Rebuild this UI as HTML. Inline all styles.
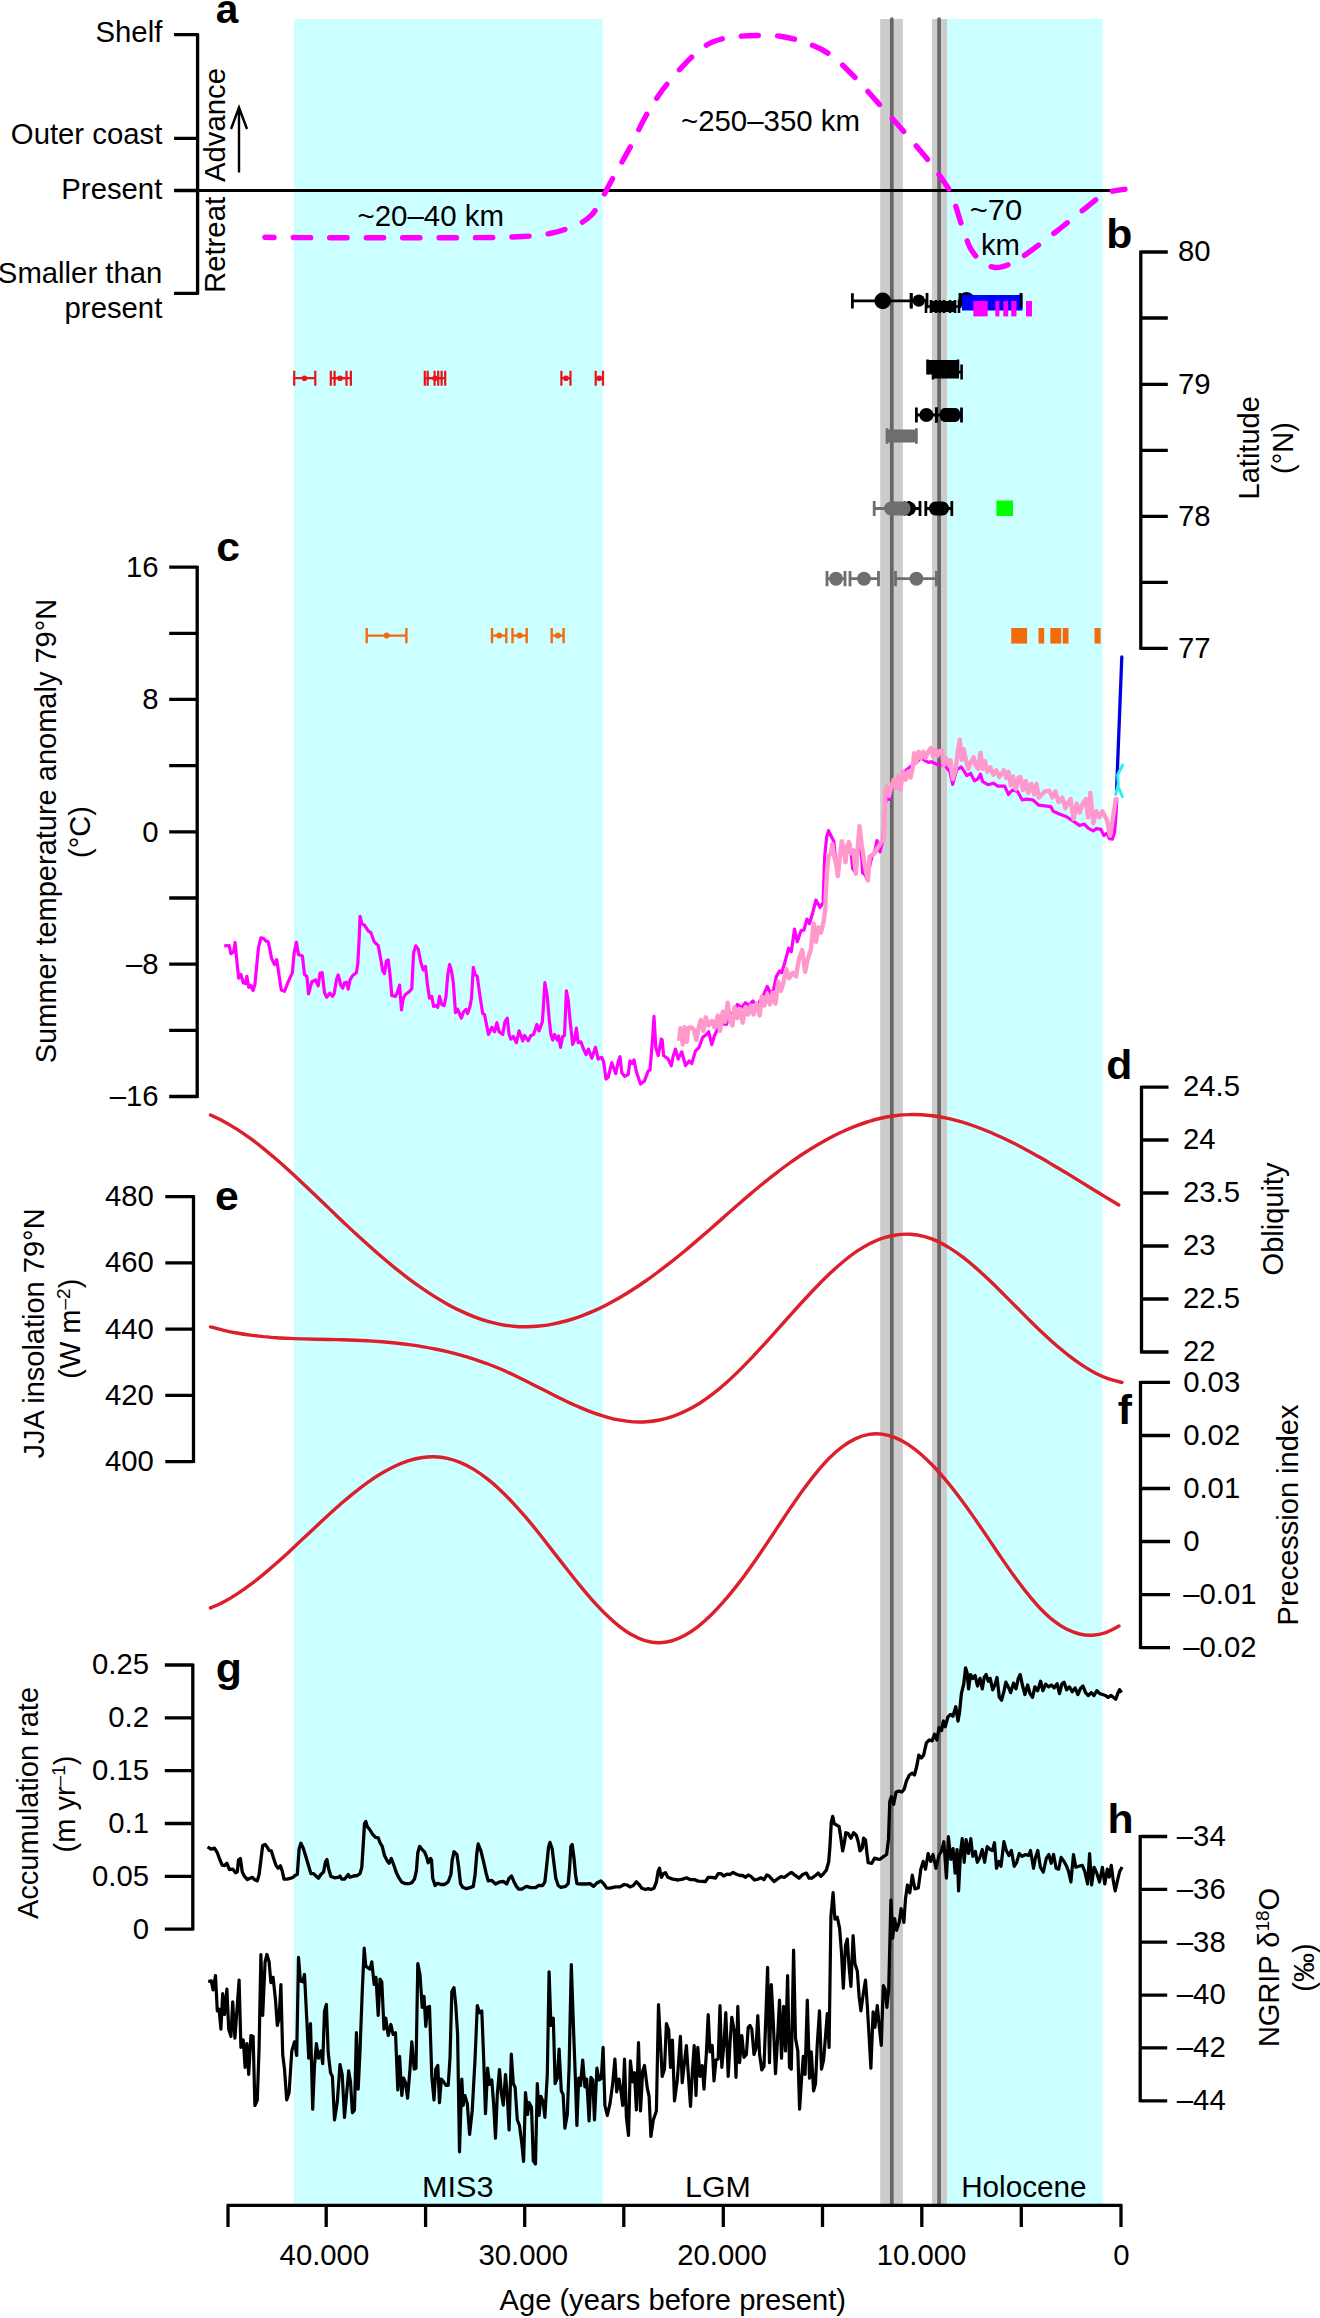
<!DOCTYPE html>
<html><head><meta charset="utf-8"><title>Figure</title>
<style>html,body{margin:0;padding:0;background:#fff}svg{display:block}text{font-family:"Liberation Sans",Arial,Helvetica,sans-serif;fill:#000}</style></head><body>
<svg width="1320" height="2318" viewBox="0 0 1320 2318">
<rect width="1320" height="2318" fill="#fff"/>
<rect x="293.8" y="19" width="309" height="2185" fill="#ccffff"/>
<rect x="946.5" y="19" width="156" height="2185" fill="#ccffff"/>
<rect x="880.2" y="19" width="22.7" height="2185" fill="#cccccc"/>
<rect x="932" y="19" width="15" height="2185" fill="#cccccc"/>
<line x1="891.8" y1="19" x2="891.8" y2="2204" stroke="#666666" stroke-width="3.7" stroke-linecap="round"/>
<line x1="939.1" y1="19" x2="939.1" y2="2204" stroke="#666666" stroke-width="3.7" stroke-linecap="round"/>
<path d="M197.6,33.3 V294.8 M197.6,34.7 H174.1 M197.6,138.4 H174.1 M197.6,190.5 H174.1 M197.6,293.4 H174.1" stroke="#000" stroke-width="3.3" fill="none" stroke-linecap="butt"/>
<line x1="174" y1="190.5" x2="1112.5" y2="190.5" stroke="#000" stroke-width="2.8"/>
<text x="162.3" y="41.8" font-size="29.3" text-anchor="end">Shelf</text>
<text x="162.3" y="143.6" font-size="29.3" text-anchor="end">Outer coast</text>
<text x="162.3" y="198.6" font-size="29.3" text-anchor="end">Present</text>
<text x="162.3" y="282.6" font-size="29.3" text-anchor="end">Smaller than</text>
<text x="162.3" y="317.6" font-size="29.3" text-anchor="end">present</text>
<text x="215.7" y="22.7" font-size="40" font-weight="bold" textLength="22.6" lengthAdjust="spacingAndGlyphs">a</text>
<text transform="translate(224.5,182) rotate(-90)" font-size="29.3">Advance</text>
<text transform="translate(224.5,293) rotate(-90)" font-size="29.3">Retreat</text>
<path d="M239,172.5 V108 M231,129 L239,107.5 L247,129" stroke="#000" stroke-width="2.4" fill="none" stroke-linejoin="miter"/>
<path d="M265.0,237.3 C270.8,237.4 277.5,237.5 300.0,237.6 C322.5,237.7 370.0,237.8 400.0,237.8 C430.0,237.8 459.5,237.8 480.0,237.6 C500.5,237.4 511.3,237.2 523.0,236.5 C534.7,235.8 542.3,234.9 550.0,233.5 C557.7,232.1 563.6,229.9 569.0,228.0 C574.4,226.1 578.8,224.2 582.5,222.0 C586.2,219.8 588.9,217.7 591.5,215.0 C594.1,212.3 595.8,209.7 598.0,206.0 C600.2,202.3 602.6,197.5 605.0,193.0 C607.4,188.5 608.3,186.3 612.5,178.8 C616.7,171.2 624.6,157.7 630.0,147.5 C635.4,137.3 639.6,127.1 645.0,117.5 C650.4,107.9 655.8,99.0 662.5,90.0 C669.2,81.0 677.9,71.1 685.0,63.8 C692.1,56.4 698.8,50.2 705.0,46.0 C711.2,41.8 716.7,40.4 722.5,38.8 C728.3,37.1 734.6,36.8 740.0,36.3 C745.4,35.8 748.3,35.5 755.0,35.5 C761.7,35.5 771.7,35.1 780.0,36.2 C788.3,37.4 796.7,39.5 805.0,42.5 C813.3,45.5 821.7,48.7 830.0,54.5 C838.3,60.3 846.7,69.1 855.0,77.5 C863.3,85.9 872.1,96.2 880.0,105.0 C887.9,113.8 894.2,120.4 902.5,130.0 C910.8,139.6 922.1,152.3 930.0,162.5 C937.9,172.7 945.8,184.1 950.0,191.0 C954.2,197.9 953.3,199.2 955.0,204.0 C956.7,208.8 958.3,214.8 960.0,220.0 C961.7,225.2 963.3,230.4 965.0,235.0 C966.7,239.6 968.3,244.2 970.0,247.5 C971.7,250.8 973.3,252.9 975.0,255.0 C976.7,257.1 978.0,258.3 980.0,260.0 C982.0,261.7 984.5,263.8 987.0,265.0 C989.5,266.2 992.3,267.2 995.0,267.5 C997.7,267.8 1000.5,267.1 1003.0,266.5 C1005.5,265.9 1006.3,265.7 1010.0,263.8 C1013.7,261.8 1017.5,260.2 1025.0,255.0 C1032.5,249.8 1045.8,239.6 1055.0,232.5 C1064.2,225.4 1072.7,218.3 1080.0,212.5 C1087.3,206.7 1094.4,200.7 1098.8,197.5 C1103.1,194.3 1103.7,194.5 1106.0,193.5 C1108.3,192.5 1109.3,191.9 1112.5,191.2 C1115.7,190.6 1122.9,189.6 1125.0,189.3" stroke="#ff00ff" stroke-width="5.4" fill="none" stroke-dasharray="17.3 19.1" stroke-dashoffset="8" stroke-linecap="round"/>
<text x="357.5" y="225.7" font-size="29.3" textLength="146.5" lengthAdjust="spacingAndGlyphs">~20–40 km</text>
<text x="681.0" y="131.2" font-size="29.3" textLength="179.0" lengthAdjust="spacingAndGlyphs">~250–350 km</text>
<text x="996.0" y="220.0" font-size="29.3" text-anchor="middle" textLength="52.5" lengthAdjust="spacingAndGlyphs">~70</text>
<text x="1000.5" y="254.5" font-size="29.3" text-anchor="middle">km</text>
<path d="M1140.8,250.6 V649.8 M1140.8,252.0 H1167.8 M1140.8,318.0 H1167.8 M1140.8,384.4 H1167.8 M1140.8,450.4 H1167.8 M1140.8,516.4 H1167.8 M1140.8,582.4 H1167.8 M1140.8,648.4 H1167.8" stroke="#000" stroke-width="3.3" fill="none" stroke-linecap="butt"/>
<text x="1178.0" y="261.3" font-size="29.3">80</text>
<text x="1178.0" y="393.7" font-size="29.3">79</text>
<text x="1178.0" y="525.7" font-size="29.3">78</text>
<text x="1178.0" y="657.7" font-size="29.3">77</text>
<text x="1106.2" y="247.5" font-size="40" font-weight="bold" textLength="26.1" lengthAdjust="spacingAndGlyphs">b</text>
<text transform="translate(1258.8,447.8) rotate(-90)" font-size="29" text-anchor="middle">Latitude</text>
<text transform="translate(1293.2,448.0) rotate(-90)" font-size="29" text-anchor="middle">(°N)</text>
<path d="M294.2,378.2 H315.3 M294.2,370.7 V385.7 M315.3,370.7 V385.7" stroke="#e8141c" stroke-width="2.2" fill="none"/>
<circle cx="304.5" cy="378.2" r="2.8" fill="#e8141c"/>
<path d="M330.8,378.2 H350.9 M330.8,370.7 V385.7 M350.9,370.7 V385.7" stroke="#e8141c" stroke-width="2.2" fill="none"/>
<circle cx="340.0" cy="378.2" r="2.8" fill="#e8141c"/>
<path d="M334.6,378.2 H346.5 M334.6,370.7 V385.7 M346.5,370.7 V385.7" stroke="#e8141c" stroke-width="2.2" fill="none"/>
<path d="M424.8,378.2 H445.2 M424.8,370.7 V385.7 M445.2,370.7 V385.7" stroke="#e8141c" stroke-width="2.2" fill="none"/>
<circle cx="435.0" cy="378.2" r="2.8" fill="#e8141c"/>
<path d="M427.7,378.2 H441.6 M427.7,370.7 V385.7 M441.6,370.7 V385.7" stroke="#e8141c" stroke-width="2.2" fill="none"/>
<path d="M434.6,378.2 H438.2 M434.6,370.7 V385.7 M438.2,370.7 V385.7" stroke="#e8141c" stroke-width="2.2" fill="none"/>
<path d="M561.4,378.2 H570.5 M561.4,370.7 V385.7 M570.5,370.7 V385.7" stroke="#e8141c" stroke-width="2.2" fill="none"/>
<circle cx="566.0" cy="378.2" r="2.8" fill="#e8141c"/>
<path d="M595.7,378.2 H603.0 M595.7,370.7 V385.7 M603.0,370.7 V385.7" stroke="#e8141c" stroke-width="2.2" fill="none"/>
<circle cx="599.3" cy="378.2" r="2.8" fill="#e8141c"/>
<path d="M366.7,635.6 H406.4 M366.7,628.0 V643.2 M406.4,628.0 V643.2" stroke="#f26c0d" stroke-width="2.4" fill="none"/>
<circle cx="386.6" cy="635.6" r="3.0" fill="#f26c0d"/>
<path d="M492.0,635.6 H506.3 M492.0,628.0 V643.2 M506.3,628.0 V643.2" stroke="#f26c0d" stroke-width="2.4" fill="none"/>
<circle cx="499.2" cy="635.6" r="3.0" fill="#f26c0d"/>
<path d="M512.5,635.6 H526.7 M512.5,628.0 V643.2 M526.7,628.0 V643.2" stroke="#f26c0d" stroke-width="2.4" fill="none"/>
<circle cx="519.5" cy="635.6" r="3.0" fill="#f26c0d"/>
<path d="M551.7,635.6 H563.6 M551.7,628.0 V643.2 M563.6,628.0 V643.2" stroke="#f26c0d" stroke-width="2.4" fill="none"/>
<circle cx="557.8" cy="635.6" r="3.0" fill="#f26c0d"/>
<rect x="1011.2" y="628" width="15.9" height="15.6" fill="#f26c0d"/>
<rect x="1038.5" y="628" width="5.7" height="15.6" fill="#f26c0d"/>
<rect x="1050.3" y="628" width="10.9" height="15.6" fill="#f26c0d"/>
<rect x="1062.7" y="628" width="5.8" height="15.6" fill="#f26c0d"/>
<rect x="1094.5" y="628" width="6.1" height="15.6" fill="#f26c0d"/>
<path d="M852.4,300.9 H911.2 M852.4,293.3 V308.5 M911.2,293.3 V308.5" stroke="#000" stroke-width="2.8" fill="none"/>
<circle cx="882.7" cy="300.9" r="8.3" fill="#000"/>
<path d="M911.2,300.6 H927.0 M911.2,293.0 V308.2 M927.0,293.0 V308.2" stroke="#000" stroke-width="2.8" fill="none"/>
<circle cx="918.8" cy="300.6" r="6.2" fill="#000"/>
<circle cx="966.5" cy="300" r="8" fill="#000"/>
<path d="M926.0,306.5 H944.0 M926.0,300.0 V313.0 M944.0,300.0 V313.0" stroke="#000" stroke-width="2.6" fill="none"/>
<circle cx="935.0" cy="306.5" r="5.5" fill="#000"/>
<path d="M931.0,306.5 H950.0 M931.0,300.0 V313.0 M950.0,300.0 V313.0" stroke="#000" stroke-width="2.6" fill="none"/>
<circle cx="941.0" cy="306.5" r="5.5" fill="#000"/>
<path d="M936.0,306.5 H955.0 M936.0,300.0 V313.0 M955.0,300.0 V313.0" stroke="#000" stroke-width="2.6" fill="none"/>
<circle cx="946.0" cy="306.5" r="5.5" fill="#000"/>
<path d="M940.0,306.5 H959.0 M940.0,300.0 V313.0 M959.0,300.0 V313.0" stroke="#000" stroke-width="2.6" fill="none"/>
<circle cx="950.0" cy="306.5" r="5.5" fill="#000"/>
<rect x="930" y="301" width="26" height="11" fill="#000"/>
<path d="M960.0,300.5 H1021.0 M960.0,292.9 V308.1 M1021.0,292.9 V308.1" stroke="#000" stroke-width="2.8" fill="none"/>
<rect x="962" y="295" width="60.5" height="15.5" fill="#0000ff"/>
<line x1="1021" y1="293" x2="1021" y2="308" stroke="#000" stroke-width="2.2"/>
<rect x="973.3" y="301" width="14.4" height="15.4" fill="#ff00ff"/>
<rect x="995.3" y="301" width="4.1" height="15.4" fill="#ff00ff"/>
<rect x="1003.3" y="301" width="4.9" height="15.4" fill="#ff00ff"/>
<rect x="1011.2" y="301" width="5.3" height="15.4" fill="#ff00ff"/>
<rect x="1026.0" y="301" width="6.0" height="15.4" fill="#ff00ff"/>
<rect x="928" y="360" width="29" height="14.5" fill="#000"/>
<rect x="934" y="366" width="25" height="12.5" fill="#000"/>
<path d="M927.5,367.0 H958.0 M927.5,359.4 V374.6 M958.0,359.4 V374.6" stroke="#000" stroke-width="2.6" fill="none"/>
<path d="M933.0,372.0 H961.6 M933.0,364.4 V379.6 M961.6,364.4 V379.6" stroke="#000" stroke-width="2.6" fill="none"/>
<path d="M916.4,415.0 H936.4 M916.4,407.4 V422.6 M936.4,407.4 V422.6" stroke="#000" stroke-width="2.8" fill="none"/>
<circle cx="926.4" cy="415.0" r="7.0" fill="#000"/>
<path d="M936.4,415.0 H961.5 M936.4,407.4 V422.6 M961.5,407.4 V422.6" stroke="#000" stroke-width="2.8" fill="none"/>
<rect x="940" y="408" width="20" height="14" rx="5" fill="#000"/>
<path d="M887.0,436.0 H916.4 M887.0,428.2 V443.8 M916.4,428.2 V443.8" stroke="#6e6e6e" stroke-width="2.8" fill="none"/>
<rect x="887.5" y="429.5" width="28.5" height="13" rx="2" fill="#6e6e6e"/>
<path d="M909.0,508.5 H920.0 M909.0,500.9 V516.1 M920.0,500.9 V516.1" stroke="#000" stroke-width="2.8" fill="none"/>
<circle cx="909.0" cy="508.5" r="7.0" fill="#000"/>
<path d="M925.8,508.5 H951.8 M925.8,500.9 V516.1 M951.8,500.9 V516.1" stroke="#000" stroke-width="2.8" fill="none"/>
<rect x="929" y="501.5" width="20" height="14" rx="6.5" fill="#000"/>
<path d="M874.2,508.5 H905.0 M874.2,500.9 V516.1 M905.0,500.9 V516.1" stroke="#6e6e6e" stroke-width="2.8" fill="none"/>
<circle cx="891.0" cy="508.5" r="7.0" fill="#6e6e6e"/>
<rect x="886" y="501.5" width="24.5" height="14" rx="6.5" fill="#6e6e6e"/>
<rect x="996.4" y="500.5" width="16.6" height="15.5" fill="#00ff00"/>
<path d="M827.0,578.7 H845.0 M827.0,571.1 V586.3 M845.0,571.1 V586.3" stroke="#6e6e6e" stroke-width="2.8" fill="none"/>
<circle cx="836.0" cy="578.7" r="7.0" fill="#6e6e6e"/>
<path d="M850.0,578.7 H878.5 M850.0,571.1 V586.3 M878.5,571.1 V586.3" stroke="#6e6e6e" stroke-width="2.8" fill="none"/>
<circle cx="864.0" cy="578.7" r="7.0" fill="#6e6e6e"/>
<path d="M895.5,578.7 H936.4 M895.5,571.1 V586.3 M936.4,571.1 V586.3" stroke="#6e6e6e" stroke-width="2.8" fill="none"/>
<circle cx="916.4" cy="578.7" r="7.0" fill="#6e6e6e"/>
<path d="M197.2,565.7 V1097.9 M197.2,567.1 H169.2 M197.2,633.3 H169.2 M197.2,699.4 H169.2 M197.2,765.6 H169.2 M197.2,831.8 H169.2 M197.2,898.0 H169.2 M197.2,964.1 H169.2 M197.2,1030.3 H169.2 M197.2,1096.5 H169.2" stroke="#000" stroke-width="3.3" fill="none" stroke-linecap="butt"/>
<text x="158.6" y="576.9" font-size="29.3" text-anchor="end">16</text>
<text x="158.6" y="709.2" font-size="29.3" text-anchor="end">8</text>
<text x="158.6" y="841.6" font-size="29.3" text-anchor="end">0</text>
<text x="158.6" y="973.9" font-size="29.3" text-anchor="end">–8</text>
<text x="158.6" y="1106.3" font-size="29.3" text-anchor="end">–16</text>
<text x="216.2" y="560.5" font-size="40" font-weight="bold" textLength="23.8" lengthAdjust="spacingAndGlyphs">c</text>
<text transform="translate(55.5,831.0) rotate(-90)" font-size="29" text-anchor="middle">Summer temperature anomaly 79°N</text>
<text transform="translate(89.5,832.0) rotate(-90)" font-size="29" text-anchor="middle">(°C)</text>
<polyline points="224.2,945.8 229.1,945.5 230.9,953.6 233.6,951.8 235.1,942.7 237.3,965.5 238.7,978.2 240.9,974.5 243.3,982.7 245.5,983.6 246.9,976.4 248.7,987.3 250.9,985.5 253.1,990.5 254.9,984.5 256.7,965.5 258.5,947.3 260.9,937.8 263.6,938.5 265.8,940.9 268.2,941.8 270.0,950.0 271.5,958.2 274.5,964.5 276.7,959.6 279.1,975.5 281.3,990.0 284.5,991.3 288.2,981.8 292.4,972.7 294.2,952.7 296.4,942.2 298.5,954.5 302.4,956.0 304.5,974.5 306.9,976.4 308.5,994.0 311.8,981.8 315.5,980.0 318.2,985.8 320.0,973.1 322.2,972.7 324.5,992.7 326.7,997.3 330.0,993.1 332.4,996.4 334.2,993.6 336.4,980.0 338.2,974.9 340.9,985.5 342.7,988.2 344.5,982.7 346.4,982.2 348.2,989.1 350.0,980.0 352.7,975.5 356.4,972.7 357.8,963.6 359.1,940.0 360.0,916.4 361.8,923.6 364.5,925.1 368.2,930.9 370.9,932.7 374.2,941.8 378.2,945.5 380.9,960.0 382.7,970.9 384.5,973.6 386.4,960.9 388.2,960.0 390.0,974.5 391.8,995.5 395.5,996.4 397.3,992.7 399.6,985.1 401.5,1010.0 403.3,998.2 405.5,994.5 409.1,991.8 411.8,988.7 413.6,952.7 415.8,945.8 418.2,949.1 420.9,962.7 423.3,970.0 425.5,966.4 427.3,983.6 429.5,998.2 431.8,996.4 433.6,1006.4 436.0,1005.5 437.8,1007.3 439.5,996.4 441.8,1004.5 444.2,1005.5 446.0,996.4 447.8,974.5 449.6,964.5 451.5,970.9 453.3,982.7 455.5,1012.7 457.6,1009.1 459.5,1013.6 461.3,1018.2 463.6,1011.8 466.0,1009.5 467.6,1013.6 470.0,1006.4 471.5,998.2 473.3,967.3 475.1,974.5 477.3,976.4 480.0,996.4 482.7,1013.6 484.5,1014.5 486.7,1025.5 488.5,1034.5 491.8,1027.3 494.5,1031.8 496.9,1022.7 499.1,1031.8 502.7,1034.5 504.9,1021.8 507.3,1018.2 509.1,1034.5 510.9,1039.1 513.3,1036.4 516.4,1042.7 519.1,1030.9 520.9,1035.5 522.7,1040.9 524.5,1035.5 528.2,1040.9 530.9,1035.5 533.6,1034.5 536.9,1024.5 539.1,1030.9 542.4,1021.8 544.9,982.7 547.3,996.4 549.1,1018.2 550.9,1034.5 552.7,1040.0 554.5,1034.5 557.3,1040.0 558.7,1036.0 560.5,1047.3 562.7,1036.7 564.5,1035.5 566.4,990.9 568.2,1000.0 570.4,1023.6 572.7,1044.5 574.5,1040.0 576.4,1028.2 578.2,1042.7 580.9,1041.8 583.6,1049.1 586.0,1054.5 588.5,1049.1 591.8,1058.2 595.5,1047.3 598.2,1059.1 601.8,1057.3 603.6,1061.8 606.0,1079.1 608.2,1077.3 611.8,1062.7 615.8,1073.6 618.2,1061.8 620.0,1056.7 621.8,1072.7 624.5,1076.4 628.2,1074.5 630.0,1060.9 632.2,1063.6 634.0,1060.0 636.4,1071.8 640.5,1084.0 644.5,1080.9 648.2,1070.9 650.0,1070.0 652.2,1043.6 654.0,1016.4 655.8,1047.3 658.2,1055.5 661.3,1039.1 662.2,1040.0 663.6,1055.5 668.2,1059.1 671.3,1065.8 673.1,1056.4 675.5,1049.1 678.2,1059.1 681.8,1051.8 685.5,1065.5 689.1,1060.9 691.8,1063.6 695.5,1050.9 699.1,1047.3 702.7,1037.3 706.4,1034.5 708.7,1031.8 711.8,1044.5 714.5,1035.5 718.2,1028.2 722.7,1023.6 726.4,1024.5 730.0,1015.5 734.5,1010.9 737.3,1004.5 741.8,1007.3 745.5,1002.7 749.1,1005.5 752.7,1000.9 757.3,1005.5 761.8,998.2 764.5,992.7 767.3,986.4 770.9,994.5 773.6,989.1 776.4,976.4 779.6,970.9 781.8,972.7 785.5,960.0 788.7,948.2 791.3,951.8 794.5,929.1 797.3,941.8 800.9,930.9 804.0,930.0 806.9,919.1 809.5,923.6 812.7,912.7 816.0,900.0 820.0,907.3 823.6,901.8 825.1,887.3 823.2,900.0 824.7,856.4 826.7,836.7 828.5,830.6 831.5,836.7 833.8,841.2 835.3,856.4 837.6,871.5 839.8,856.4 841.8,842.7 843.6,850.3 845.5,860.9 847.4,845.8 849.4,842.7 851.2,853.3 852.7,868.5 855.8,873.0 858.0,851.8 860.0,829.1 862.6,873.0 864.8,874.5 867.1,879.1 870.2,863.9 872.4,854.8 874.7,851.8 877.0,840.5 880.0,851.8 883.0,839.7 884.5,810.9 886.1,798.8 889.8,799.5 891.4,788.2 895.2,783.6 899.7,780.6 903.5,773.0 907.3,769.2 911.8,765.5 916.4,762.4 920.9,757.9 925.5,760.9 928.5,762.4 931.5,761.7 934.5,763.2 938.3,764.7 940.6,765.5 943.6,763.9 946.7,767.7 949.7,771.5 952.7,784.4 956.5,770.0 961.1,767.0 963.0,769.5 966.8,775.6 970.6,773.3 974.4,780.9 978.2,778.6 980.5,774.1 982.7,781.7 988.0,784.7 993.3,783.2 997.9,786.2 1004.7,786.2 1008.5,794.5 1012.3,790.0 1017.6,791.5 1022.1,799.8 1026.7,799.1 1032.7,799.8 1038.8,805.2 1044.8,805.9 1050.9,806.7 1053.2,811.2 1060.0,814.2 1066.1,816.5 1072.1,820.3 1079.7,825.6 1084.2,824.1 1088.8,828.6 1093.3,830.9 1096.4,828.6 1100.9,829.4 1103.9,835.5 1107.0,833.2 1109.2,838.5 1112.3,839.2 1114.5,832.4 1116.1,814.2 1116.8,797.6" stroke="#ff00ff" stroke-width="3.2" fill="none" stroke-linejoin="round"/>
<polyline points="679.1,1040.9 680.4,1028.2 682.7,1044.5 684.5,1027.3 686.9,1041.8 688.2,1028.2 690.9,1027.3 693.6,1029.1 696.4,1040.0 699.1,1025.5 700.9,1020.0 703.3,1030.9 705.8,1017.3 708.7,1025.5 711.8,1020.9 714.5,1027.3 717.8,1015.5 720.0,1030.9 722.7,1011.8 725.1,1021.8 727.6,1002.7 730.0,1020.0 732.4,1025.5 734.5,1007.3 737.3,1018.2 740.0,1009.1 742.7,1022.7 745.5,1007.3 748.2,1014.5 750.9,1005.5 753.6,1014.5 756.4,1003.6 759.6,1015.5 761.8,996.4 764.5,1005.5 767.3,994.5 770.0,1004.5 772.7,992.7 775.5,1003.6 778.2,981.8 780.9,990.9 783.6,981.8 786.4,969.1 789.1,978.2 792.7,972.7 796.0,976.4 799.1,958.2 802.2,950.0 805.1,971.8 807.6,960.0 810.9,949.1 813.6,923.6 816.0,941.8 818.5,927.3 820.9,932.7 823.6,921.8 825.5,907.3 825.5,900.0 827.0,871.5 828.5,856.4 830.8,853.3 832.3,844.2 834.2,856.4 836.1,863.9 837.9,876.1 839.8,856.4 841.8,841.2 843.6,848.8 845.5,862.4 847.4,845.8 848.9,842.0 851.2,853.3 853.5,850.3 855.8,873.8 857.6,848.8 859.5,826.1 861.8,845.8 864.8,865.5 867.9,880.6 869.7,856.4 872.4,854.8 874.7,853.3 877.0,848.8 879.2,845.8 881.5,841.2 883.8,839.7 885.3,791.2 886.8,786.7 888.8,795.8 891.4,786.7 893.6,779.8 895.9,788.2 898.2,776.1 900.5,789.7 902.7,771.5 905.8,779.8 908.0,771.5 910.6,777.6 912.6,768.5 914.1,753.3 916.4,762.4 918.6,751.8 920.9,757.9 923.2,751.8 925.5,757.9 927.7,752.6 930.8,748.0 933.0,756.4 935.3,749.5 937.6,755.6 939.8,751.1 942.1,750.3 943.6,765.5 945.9,757.9 948.2,763.9 950.5,760.2 952.7,779.1 955.8,768.5 958.0,750.3 959.8,739.7 961.8,759.7 963.8,749.1 966.1,761.2 968.3,768.8 970.6,762.7 973.6,757.4 975.9,765.8 978.2,768.8 980.5,752.9 982.7,768.8 985.0,761.2 987.3,771.8 990.3,767.3 993.3,774.8 996.4,770.3 999.4,777.1 1003.9,770.3 1006.2,777.9 1008.5,771.8 1010.8,785.5 1013.0,776.4 1016.1,789.2 1018.3,777.9 1020.6,777.1 1022.9,790.0 1025.9,780.9 1028.2,793.0 1031.2,783.9 1034.2,794.5 1036.5,783.9 1038.8,797.6 1041.8,794.5 1044.8,791.5 1049.4,790.8 1052.4,797.6 1055.5,791.5 1058.5,802.1 1062.3,797.6 1065.3,808.2 1068.3,802.1 1070.6,799.1 1073.6,818.8 1076.7,803.6 1079.7,812.7 1082.7,803.6 1085.8,799.1 1088.0,817.3 1090.3,793.0 1093.3,823.3 1096.4,811.2 1099.4,817.3 1102.4,811.2 1107.0,820.3 1110.0,835.5 1113.0,817.3 1116.1,797.6" stroke="#ff99cc" stroke-width="4.4" fill="none" stroke-linejoin="round"/>
<line x1="1121.8" y1="657" x2="1116.6" y2="790" stroke="#0000e0" stroke-width="3.3" stroke-linecap="round"/>
<path d="M1115.7,794.5 L1118.3,784 L1117.6,775 L1122.6,765 M1117.8,785.5 L1122.3,796.5" stroke="#33eeee" stroke-width="3" fill="none" stroke-linecap="round" stroke-linejoin="round"/>
<path d="M210.5,1115.0 C212.7,1116.1 219.3,1119.0 223.7,1121.4 C228.1,1123.7 232.4,1126.3 236.8,1129.1 C241.2,1131.9 245.6,1135.0 250.0,1138.2 C254.4,1141.4 258.8,1144.8 263.2,1148.3 C267.5,1151.8 271.9,1155.5 276.3,1159.3 C280.7,1163.1 285.1,1167.0 289.5,1171.0 C293.9,1175.0 298.3,1179.1 302.6,1183.2 C307.0,1187.3 311.4,1191.5 315.8,1195.7 C320.2,1199.9 324.6,1204.1 329.0,1208.4 C333.4,1212.6 337.7,1216.8 342.1,1221.0 C346.5,1225.1 350.9,1229.3 355.3,1233.3 C359.7,1237.4 364.1,1241.4 368.5,1245.3 C372.8,1249.2 377.2,1253.1 381.6,1256.8 C386.0,1260.6 390.4,1264.3 394.8,1267.8 C399.2,1271.3 403.6,1274.8 407.9,1278.1 C412.3,1281.4 416.7,1284.6 421.1,1287.6 C425.5,1290.7 429.9,1293.6 434.3,1296.4 C438.7,1299.1 443.0,1301.7 447.4,1304.2 C451.8,1306.6 456.2,1308.9 460.6,1310.9 C465.0,1313.0 469.4,1314.9 473.8,1316.6 C478.1,1318.3 482.5,1319.8 486.9,1321.1 C491.3,1322.4 495.7,1323.5 500.1,1324.3 C504.5,1325.2 508.9,1325.8 513.2,1326.2 C517.6,1326.6 522.0,1326.8 526.4,1326.7 C530.8,1326.7 535.2,1326.5 539.6,1326.0 C544.0,1325.6 548.4,1324.9 552.7,1324.1 C557.1,1323.3 561.5,1322.2 565.9,1321.0 C570.3,1319.8 574.7,1318.4 579.1,1316.8 C583.5,1315.3 587.8,1313.5 592.2,1311.6 C596.6,1309.7 601.0,1307.7 605.4,1305.4 C609.8,1303.2 614.2,1300.8 618.6,1298.3 C622.9,1295.8 627.3,1293.1 631.7,1290.3 C636.1,1287.5 640.5,1284.6 644.9,1281.5 C649.3,1278.5 653.7,1275.3 658.0,1272.0 C662.4,1268.7 666.8,1265.3 671.2,1261.9 C675.6,1258.4 680.0,1254.8 684.4,1251.2 C688.8,1247.6 693.1,1243.9 697.5,1240.1 C701.9,1236.3 706.3,1232.5 710.7,1228.7 C715.1,1224.8 719.5,1220.9 723.9,1217.1 C728.2,1213.2 732.6,1209.3 737.0,1205.5 C741.4,1201.7 745.8,1197.8 750.2,1194.1 C754.6,1190.4 759.0,1186.7 763.3,1183.2 C767.7,1179.6 772.1,1176.2 776.5,1172.8 C780.9,1169.4 785.3,1166.2 789.7,1163.0 C794.1,1159.9 798.4,1156.9 802.8,1154.0 C807.2,1151.1 811.6,1148.3 816.0,1145.7 C820.4,1143.1 824.8,1140.6 829.2,1138.2 C833.6,1135.9 837.9,1133.7 842.3,1131.7 C846.7,1129.6 851.1,1127.8 855.5,1126.1 C859.9,1124.4 864.3,1122.8 868.7,1121.5 C873.0,1120.1 877.4,1119.0 881.8,1118.0 C886.2,1117.0 890.6,1116.3 895.0,1115.7 C899.4,1115.1 903.8,1114.7 908.1,1114.6 C912.5,1114.4 916.9,1114.5 921.3,1114.7 C925.7,1114.9 930.1,1115.4 934.5,1116.0 C938.9,1116.6 943.2,1117.4 947.6,1118.4 C952.0,1119.3 956.4,1120.5 960.8,1121.7 C965.2,1123.0 969.6,1124.4 974.0,1126.0 C978.3,1127.5 982.7,1129.2 987.1,1131.0 C991.5,1132.8 995.9,1134.8 1000.3,1136.8 C1004.7,1138.8 1009.1,1140.9 1013.4,1143.1 C1017.8,1145.3 1022.2,1147.6 1026.6,1150.0 C1031.0,1152.4 1035.4,1154.8 1039.8,1157.3 C1044.2,1159.8 1048.5,1162.4 1052.9,1165.0 C1057.3,1167.5 1061.7,1170.2 1066.1,1172.8 C1070.5,1175.5 1074.9,1178.2 1079.3,1180.9 C1083.6,1183.6 1088.0,1186.3 1092.4,1189.0 C1096.8,1191.7 1101.2,1194.4 1105.6,1197.1 C1110.0,1199.7 1116.6,1203.7 1118.8,1205.0" stroke="#dc1f2b" stroke-width="3.4" fill="none" stroke-linecap="round"/>
<path d="M210.5,1326.9 C212.7,1327.5 219.3,1329.3 223.7,1330.3 C228.1,1331.3 232.5,1332.2 236.9,1333.0 C241.3,1333.8 245.7,1334.5 250.1,1335.1 C254.5,1335.7 258.9,1336.1 263.3,1336.6 C267.7,1337.0 272.1,1337.4 276.6,1337.7 C281.0,1338.0 285.4,1338.2 289.8,1338.4 C294.2,1338.6 298.6,1338.8 303.0,1338.9 C307.4,1339.0 311.8,1339.1 316.2,1339.2 C320.6,1339.3 325.0,1339.4 329.4,1339.5 C333.8,1339.6 338.2,1339.7 342.6,1339.8 C347.0,1340.0 351.4,1340.1 355.8,1340.3 C360.2,1340.5 364.6,1340.7 369.0,1340.9 C373.4,1341.2 377.8,1341.5 382.2,1341.8 C386.6,1342.2 391.0,1342.6 395.4,1343.0 C399.8,1343.5 404.2,1344.0 408.7,1344.6 C413.1,1345.2 417.5,1345.8 421.9,1346.6 C426.3,1347.3 430.7,1348.1 435.1,1349.0 C439.5,1349.8 443.9,1350.8 448.3,1351.9 C452.7,1352.9 457.1,1354.0 461.5,1355.3 C465.9,1356.5 470.3,1357.9 474.7,1359.3 C479.1,1360.8 483.5,1362.3 487.9,1364.0 C492.3,1365.6 496.7,1367.4 501.1,1369.3 C505.5,1371.2 509.9,1373.2 514.3,1375.3 C518.7,1377.4 523.1,1379.6 527.5,1381.8 C531.9,1384.0 536.4,1386.3 540.8,1388.5 C545.2,1390.7 549.6,1393.0 554.0,1395.2 C558.4,1397.4 562.8,1399.6 567.2,1401.7 C571.6,1403.7 576.0,1405.7 580.4,1407.6 C584.8,1409.5 589.2,1411.3 593.6,1412.9 C598.0,1414.4 602.4,1415.9 606.8,1417.1 C611.2,1418.4 615.6,1419.4 620.0,1420.2 C624.4,1421.0 628.8,1421.6 633.2,1421.9 C637.6,1422.1 642.0,1422.1 646.4,1421.8 C650.8,1421.5 655.2,1420.9 659.6,1420.0 C664.0,1419.1 668.5,1417.8 672.9,1416.3 C677.3,1414.8 681.7,1413.0 686.1,1410.8 C690.5,1408.7 694.9,1406.2 699.3,1403.5 C703.7,1400.7 708.1,1397.6 712.5,1394.2 C716.9,1390.9 721.3,1387.2 725.7,1383.3 C730.1,1379.4 734.5,1375.2 738.9,1370.9 C743.3,1366.5 747.7,1362.0 752.1,1357.4 C756.5,1352.7 760.9,1347.9 765.3,1343.1 C769.7,1338.3 774.1,1333.3 778.5,1328.4 C782.9,1323.5 787.3,1318.5 791.7,1313.6 C796.1,1308.7 800.6,1303.7 805.0,1299.0 C809.4,1294.2 813.8,1289.5 818.2,1285.0 C822.6,1280.6 827.0,1276.2 831.4,1272.1 C835.8,1268.0 840.2,1264.1 844.6,1260.5 C849.0,1257.0 853.4,1253.6 857.8,1250.7 C862.2,1247.8 866.6,1245.2 871.0,1243.0 C875.4,1240.8 879.8,1239.0 884.2,1237.7 C888.6,1236.3 893.0,1235.3 897.4,1234.7 C901.8,1234.1 906.2,1234.0 910.6,1234.2 C915.0,1234.5 919.4,1235.2 923.8,1236.4 C928.3,1237.5 932.7,1239.1 937.1,1241.1 C941.5,1243.2 945.9,1245.6 950.3,1248.4 C954.7,1251.2 959.1,1254.3 963.5,1257.7 C967.9,1261.1 972.3,1264.8 976.7,1268.6 C981.1,1272.5 985.5,1276.6 989.9,1280.8 C994.3,1285.0 998.7,1289.3 1003.1,1293.7 C1007.5,1298.1 1011.9,1302.6 1016.3,1307.0 C1020.7,1311.4 1025.1,1315.9 1029.5,1320.2 C1033.9,1324.6 1038.3,1328.9 1042.7,1333.0 C1047.1,1337.1 1051.5,1341.2 1055.9,1345.0 C1060.4,1348.8 1064.8,1352.5 1069.2,1355.9 C1073.6,1359.3 1078.0,1362.5 1082.4,1365.4 C1086.8,1368.3 1091.2,1370.9 1095.6,1373.2 C1100.0,1375.4 1104.4,1377.4 1108.8,1378.9 C1113.2,1380.5 1119.8,1381.8 1122.0,1382.4" stroke="#dc1f2b" stroke-width="3.4" fill="none" stroke-linecap="round"/>
<path d="M210.5,1607.9 C212.6,1606.9 219.2,1604.2 223.6,1601.9 C228.0,1599.6 232.4,1597.0 236.8,1594.1 C241.2,1591.3 245.6,1588.2 250.0,1584.9 C254.3,1581.7 258.7,1578.2 263.1,1574.6 C267.5,1571.0 271.9,1567.2 276.3,1563.3 C280.7,1559.4 285.1,1555.4 289.5,1551.4 C293.9,1547.3 298.2,1543.2 302.6,1539.1 C307.0,1535.0 311.4,1530.8 315.8,1526.7 C320.2,1522.6 324.6,1518.5 329.0,1514.5 C333.4,1510.6 337.7,1506.6 342.1,1502.8 C346.5,1499.1 350.9,1495.4 355.3,1491.9 C359.7,1488.4 364.1,1485.0 368.5,1481.9 C372.9,1478.8 377.2,1475.9 381.6,1473.3 C386.0,1470.7 390.4,1468.3 394.8,1466.2 C399.2,1464.2 403.6,1462.4 408.0,1460.9 C412.4,1459.5 416.8,1458.4 421.1,1457.7 C425.5,1457.0 429.9,1456.6 434.3,1456.7 C438.7,1456.8 443.1,1457.3 447.5,1458.3 C451.9,1459.3 456.3,1460.7 460.6,1462.6 C465.0,1464.4 469.4,1466.8 473.8,1469.4 C478.2,1472.1 482.6,1475.2 487.0,1478.7 C491.4,1482.1 495.8,1485.9 500.1,1490.0 C504.5,1494.1 508.9,1498.6 513.3,1503.3 C517.7,1508.0 522.1,1513.0 526.5,1518.1 C530.9,1523.3 535.3,1528.7 539.7,1534.2 C544.0,1539.7 548.4,1545.4 552.8,1551.1 C557.2,1556.7 561.6,1562.5 566.0,1568.0 C570.4,1573.6 574.8,1579.2 579.2,1584.6 C583.5,1589.9 587.9,1595.2 592.3,1600.1 C596.7,1605.0 601.1,1609.8 605.5,1614.0 C609.9,1618.3 614.3,1622.3 618.7,1625.8 C623.1,1629.2 627.4,1632.3 631.8,1634.8 C636.2,1637.3 640.6,1639.3 645.0,1640.6 C649.4,1641.9 653.8,1642.7 658.2,1642.7 C662.6,1642.8 666.9,1642.2 671.3,1641.0 C675.7,1639.7 680.1,1637.9 684.5,1635.5 C688.9,1633.1 693.3,1630.2 697.7,1626.8 C702.1,1623.4 706.4,1619.5 710.8,1615.2 C715.2,1611.0 719.6,1606.2 724.0,1601.2 C728.4,1596.2 732.8,1590.8 737.2,1585.1 C741.6,1579.5 746.0,1573.5 750.3,1567.4 C754.7,1561.3 759.1,1554.9 763.5,1548.4 C767.9,1541.9 772.3,1535.2 776.7,1528.6 C781.1,1522.1 785.5,1515.3 789.8,1508.9 C794.2,1502.5 798.6,1496.0 803.0,1490.0 C807.4,1484.0 811.8,1478.1 816.2,1472.8 C820.6,1467.5 825.0,1462.4 829.4,1458.0 C833.7,1453.7 838.1,1449.8 842.5,1446.6 C846.9,1443.3 851.3,1440.7 855.7,1438.6 C860.1,1436.6 864.5,1435.2 868.9,1434.4 C873.2,1433.7 877.6,1433.6 882.0,1434.1 C886.4,1434.6 890.8,1435.9 895.2,1437.6 C899.6,1439.4 904.0,1441.8 908.4,1444.6 C912.7,1447.5 917.1,1450.9 921.5,1454.7 C925.9,1458.6 930.3,1462.9 934.7,1467.5 C939.1,1472.2 943.5,1477.3 947.9,1482.6 C952.3,1487.9 956.6,1493.6 961.0,1499.5 C965.4,1505.4 969.8,1511.6 974.2,1517.9 C978.6,1524.1 983.0,1530.7 987.4,1537.1 C991.8,1543.6 996.1,1550.2 1000.5,1556.6 C1004.9,1563.0 1009.3,1569.4 1013.7,1575.5 C1018.1,1581.5 1022.5,1587.5 1026.9,1592.9 C1031.3,1598.4 1035.6,1603.6 1040.0,1608.2 C1044.4,1612.7 1048.8,1616.9 1053.2,1620.4 C1057.6,1623.9 1062.0,1626.8 1066.4,1629.1 C1070.8,1631.3 1075.2,1633.0 1079.5,1634.0 C1083.9,1635.0 1088.3,1635.5 1092.7,1635.2 C1097.1,1635.0 1101.5,1634.1 1105.9,1632.6 C1110.3,1631.1 1116.9,1627.2 1119.0,1626.1" stroke="#dc1f2b" stroke-width="3.4" fill="none" stroke-linecap="round"/>
<path d="M1141.5,1085.7 V1353.4 M1141.5,1087.1 H1168.5 M1141.5,1140.0 H1168.5 M1141.5,1193.0 H1168.5 M1141.5,1246.0 H1168.5 M1141.5,1299.0 H1168.5 M1141.5,1352.0 H1168.5" stroke="#000" stroke-width="3.3" fill="none" stroke-linecap="butt"/>
<text x="1183.0" y="1096.4" font-size="29.3">24.5</text>
<text x="1183.0" y="1149.3" font-size="29.3">24</text>
<text x="1183.0" y="1202.3" font-size="29.3">23.5</text>
<text x="1183.0" y="1255.3" font-size="29.3">23</text>
<text x="1183.0" y="1308.3" font-size="29.3">22.5</text>
<text x="1183.0" y="1361.3" font-size="29.3">22</text>
<text x="1106.2" y="1079.2" font-size="40" font-weight="bold" textLength="26.1" lengthAdjust="spacingAndGlyphs">d</text>
<text transform="translate(1283.0,1219.0) rotate(-90)" font-size="29" text-anchor="middle">Obliquity</text>
<path d="M193.5,1195.2 V1463.1 M193.5,1196.6 H165.3 M193.5,1262.9 H165.3 M193.5,1329.2 H165.3 M193.5,1395.4 H165.3 M193.5,1461.7 H165.3" stroke="#000" stroke-width="3.3" fill="none" stroke-linecap="butt"/>
<text x="153.8" y="1205.9" font-size="29.3" text-anchor="end">480</text>
<text x="153.8" y="1272.2" font-size="29.3" text-anchor="end">460</text>
<text x="153.8" y="1338.5" font-size="29.3" text-anchor="end">440</text>
<text x="153.8" y="1404.7" font-size="29.3" text-anchor="end">420</text>
<text x="153.8" y="1471.0" font-size="29.3" text-anchor="end">400</text>
<text x="214.9" y="1210.0" font-size="40" font-weight="bold" textLength="23.8" lengthAdjust="spacingAndGlyphs">e</text>
<text transform="translate(44.1,1333.5) rotate(-90)" font-size="29" text-anchor="middle">JJA insolation 79°N</text>
<text transform="translate(79.5,1328.7) rotate(-90)" font-size="29" text-anchor="middle">(W m<tspan font-size="19" dy="-10">–2</tspan><tspan dy="10">)</tspan></text>
<path d="M1140.5,1381.0 V1649.1 M1140.5,1382.4 H1170.0 M1140.5,1435.5 H1170.0 M1140.5,1488.5 H1170.0 M1140.5,1541.5 H1170.0 M1140.5,1594.6 H1170.0 M1140.5,1647.7 H1170.0" stroke="#000" stroke-width="3.3" fill="none" stroke-linecap="butt"/>
<text x="1183.2" y="1391.5" font-size="29.3">0.03</text>
<text x="1183.2" y="1444.5" font-size="29.3">0.02</text>
<text x="1183.2" y="1497.6" font-size="29.3">0.01</text>
<text x="1183.2" y="1550.6" font-size="29.3">0</text>
<text x="1183.2" y="1603.7" font-size="29.3">–0.01</text>
<text x="1183.2" y="1656.8" font-size="29.3">–0.02</text>
<text x="1117.7" y="1424.2" font-size="40" font-weight="bold" textLength="14.2" lengthAdjust="spacingAndGlyphs">f</text>
<text transform="translate(1297.7,1515.0) rotate(-90)" font-size="29" text-anchor="middle">Precession index</text>
<path d="M192.8,1663.6 V1930.5 M192.8,1665.0 H164.8 M192.8,1717.8 H164.8 M192.8,1770.6 H164.8 M192.8,1823.5 H164.8 M192.8,1876.3 H164.8 M192.8,1929.1 H164.8" stroke="#000" stroke-width="3.3" fill="none" stroke-linecap="butt"/>
<text x="149.0" y="1674.4" font-size="29.3" text-anchor="end">0.25</text>
<text x="149.0" y="1727.2" font-size="29.3" text-anchor="end">0.2</text>
<text x="149.0" y="1780.0" font-size="29.3" text-anchor="end">0.15</text>
<text x="149.0" y="1832.9" font-size="29.3" text-anchor="end">0.1</text>
<text x="149.0" y="1885.7" font-size="29.3" text-anchor="end">0.05</text>
<text x="149.0" y="1938.5" font-size="29.3" text-anchor="end">0</text>
<text x="215.7" y="1682.0" font-size="40" font-weight="bold" textLength="26.1" lengthAdjust="spacingAndGlyphs">g</text>
<text transform="translate(38.2,1803.0) rotate(-90)" font-size="29" text-anchor="middle">Accumulation rate</text>
<text transform="translate(74.7,1804.0) rotate(-90)" font-size="29" text-anchor="middle">(m yr<tspan font-size="19" dy="-10">–1</tspan><tspan dy="10">)</tspan></text>
<polyline points="207.6,1846.9 210.9,1849.1 214.5,1848.2 217.3,1852.7 220.0,1860.0 222.2,1865.1 224.5,1865.5 226.9,1863.3 229.5,1869.5 232.7,1869.1 235.5,1872.7 237.3,1871.8 238.5,1860.0 240.4,1858.5 242.2,1871.8 244.5,1876.4 247.3,1879.6 250.0,1878.2 252.4,1877.3 254.5,1879.6 257.3,1880.9 259.1,1874.5 260.9,1860.0 262.7,1845.5 265.1,1844.5 267.3,1847.3 269.1,1850.5 271.3,1850.9 273.6,1858.2 276.0,1865.5 278.2,1868.2 280.4,1865.8 282.2,1870.9 284.0,1879.1 287.3,1879.1 290.9,1878.2 293.1,1877.3 294.9,1875.5 297.3,1874.5 299.1,1849.1 300.9,1843.3 303.3,1848.2 305.5,1855.5 308.2,1864.5 310.9,1873.6 313.6,1873.6 316.4,1876.4 318.5,1878.2 320.9,1874.5 323.6,1871.8 325.5,1861.8 326.9,1859.6 328.7,1869.1 330.9,1876.4 334.5,1877.8 338.2,1877.3 340.0,1876.0 341.8,1879.1 344.5,1879.1 346.9,1876.4 348.2,1874.5 350.0,1877.3 353.6,1876.0 357.3,1875.5 360.0,1873.6 361.8,1867.3 363.3,1843.6 364.5,1823.6 365.8,1821.5 367.3,1826.4 370.0,1830.0 372.7,1834.5 375.5,1837.3 378.2,1837.8 380.0,1842.7 382.2,1846.4 384.5,1855.5 387.3,1860.9 389.1,1863.3 391.3,1858.5 393.6,1864.5 396.4,1872.7 399.1,1878.2 401.8,1882.2 405.5,1883.6 409.1,1883.6 411.8,1882.7 414.5,1879.1 416.4,1870.9 417.8,1852.7 419.6,1846.4 421.8,1849.1 424.5,1851.8 426.4,1856.4 428.2,1862.7 430.5,1858.5 431.5,1860.0 432.7,1878.2 435.1,1885.5 437.6,1883.3 440.9,1884.5 444.5,1884.5 448.2,1881.8 450.9,1874.5 452.2,1860.0 454.0,1851.8 456.9,1854.5 458.7,1867.3 460.5,1883.6 462.7,1887.3 466.4,1888.7 470.0,1887.6 473.3,1886.4 475.1,1874.5 476.9,1852.7 478.2,1844.0 480.9,1850.9 483.6,1861.8 486.0,1872.7 488.2,1880.9 491.8,1880.4 495.5,1884.0 500.0,1881.8 503.6,1881.5 506.7,1884.0 509.1,1878.2 511.5,1876.0 513.6,1880.9 516.4,1886.4 518.7,1889.1 521.8,1889.1 526.4,1886.4 530.9,1887.6 535.5,1887.6 538.7,1885.5 542.7,1885.5 544.9,1881.8 546.7,1865.5 548.5,1847.3 550.0,1842.4 552.2,1849.1 554.0,1863.6 555.8,1878.2 558.2,1885.5 560.9,1887.3 565.5,1886.4 568.2,1883.6 569.6,1867.3 570.9,1846.4 572.2,1844.5 574.0,1858.2 575.5,1874.5 576.9,1883.6 580.9,1884.0 586.4,1884.0 590.0,1883.6 593.6,1886.4 597.3,1882.7 600.9,1880.9 603.6,1883.6 606.7,1888.2 610.0,1888.2 615.5,1886.9 620.0,1886.9 624.2,1884.5 627.3,1885.1 630.0,1886.9 633.3,1885.5 636.4,1881.8 639.1,1884.5 641.8,1888.2 645.5,1889.5 648.2,1888.7 650.9,1889.5 654.0,1888.2 656.4,1881.8 658.2,1870.9 659.5,1868.2 661.3,1877.3 663.6,1873.6 665.5,1872.7 667.8,1877.3 672.7,1879.1 678.2,1880.0 682.7,1879.1 686.4,1877.8 690.0,1879.6 694.5,1879.6 698.2,1881.1 705.5,1881.5 708.2,1877.3 711.8,1877.3 715.5,1878.2 718.2,1873.6 720.9,1873.6 723.6,1876.0 726.9,1874.2 730.0,1874.5 733.1,1872.4 736.4,1874.2 740.0,1875.5 742.7,1875.5 745.5,1877.3 748.2,1874.9 750.9,1876.4 754.5,1880.0 758.2,1879.1 760.9,1877.8 764.0,1879.6 766.9,1874.9 769.1,1876.0 771.8,1879.1 774.2,1881.5 777.3,1879.1 780.9,1876.7 784.5,1877.3 788.2,1874.5 791.3,1872.4 794.5,1874.9 799.1,1878.2 802.7,1874.5 806.4,1873.1 809.1,1878.2 811.8,1878.2 815.5,1875.5 818.2,1873.1 820.9,1876.4 823.6,1873.6 826.4,1870.0 828.7,1861.8 830.0,1845.5 831.3,1821.8 832.7,1816.4 834.2,1823.6 837.3,1825.5 839.1,1826.4 840.9,1838.2 842.7,1850.9 844.5,1841.8 845.8,1832.7 848.2,1833.6 850.9,1838.2 853.6,1832.7 856.4,1835.5 858.2,1841.8 860.0,1850.9 862.2,1848.2 863.6,1838.2 865.5,1840.0 866.9,1852.7 868.2,1862.7 871.8,1863.3 874.5,1858.2 878.2,1859.1 880.0,1859.3 883.8,1856.4 886.6,1854.5 888.5,1839.4 889.8,1801.5 891.4,1796.8 893.6,1804.4 896.1,1792.0 898.9,1791.1 901.8,1792.0 904.2,1789.2 906.5,1780.7 909.4,1775.0 912.2,1773.1 914.5,1775.0 916.9,1765.5 918.8,1755.1 921.3,1758.0 923.6,1755.1 926.4,1742.8 929.2,1740.0 932.1,1740.9 934.5,1734.3 936.8,1740.0 939.1,1727.7 941.6,1730.5 943.4,1721.0 945.3,1726.7 947.8,1717.2 950.5,1714.4 952.9,1716.3 955.8,1706.8 958.0,1721.0 959.5,1712.5 961.4,1693.6 963.7,1684.1 965.6,1668.0 967.1,1672.7 968.6,1688.8 970.5,1674.6 972.8,1678.4 975.1,1675.6 977.5,1686.0 980.0,1678.4 982.3,1688.8 984.2,1677.5 986.1,1674.6 988.3,1681.2 990.2,1678.4 992.7,1689.8 995.2,1684.1 997.0,1677.5 999.3,1697.3 1001.6,1700.2 1004.1,1690.7 1005.9,1682.2 1008.8,1687.9 1010.7,1692.6 1013.5,1683.1 1016.0,1688.8 1018.3,1678.4 1020.2,1674.6 1022.4,1685.0 1024.9,1694.5 1027.7,1685.0 1030.0,1693.6 1032.5,1697.3 1034.9,1686.9 1037.6,1690.7 1040.6,1681.2 1042.9,1690.7 1045.7,1684.1 1048.6,1686.9 1051.4,1685.0 1054.2,1687.9 1057.1,1683.7 1059.5,1693.6 1061.8,1684.1 1064.1,1682.2 1066.6,1689.8 1069.4,1686.9 1072.2,1691.7 1075.1,1687.9 1077.9,1694.5 1080.8,1687.9 1083.0,1686.0 1085.5,1692.6 1088.3,1695.5 1091.2,1692.6 1094.0,1695.5 1096.9,1690.7 1099.7,1693.6 1102.5,1694.5 1105.4,1695.5 1108.2,1697.3 1111.1,1695.5 1113.3,1697.3 1115.8,1699.2 1117.7,1693.6 1119.6,1689.8 1121.5,1692.6" stroke="#000" stroke-width="3.3" fill="none" stroke-linejoin="round"/>
<path d="M1140.2,1835.1 V2102.2 M1140.2,1836.5 H1167.2 M1140.2,1889.4 H1167.2 M1140.2,1942.2 H1167.2 M1140.2,1995.1 H1167.2 M1140.2,2047.9 H1167.2 M1140.2,2100.8 H1167.2" stroke="#000" stroke-width="3.3" fill="none" stroke-linecap="butt"/>
<text x="1176.8" y="1845.8" font-size="29.3">–34</text>
<text x="1176.8" y="1898.7" font-size="29.3">–36</text>
<text x="1176.8" y="1951.5" font-size="29.3">–38</text>
<text x="1176.8" y="2004.4" font-size="29.3">–40</text>
<text x="1176.8" y="2057.2" font-size="29.3">–42</text>
<text x="1176.8" y="2110.1" font-size="29.3">–44</text>
<text x="1107.6" y="1832.5" font-size="40" font-weight="bold" textLength="26.1" lengthAdjust="spacingAndGlyphs">h</text>
<text transform="translate(1279.3,1967.5) rotate(-90)" font-size="29" text-anchor="middle">NGRIP δ<tspan font-size="19" dy="-10">18</tspan><tspan dy="10">O</tspan></text>
<text transform="translate(1313.6,1967.6) rotate(-90)" font-size="29" text-anchor="middle">(‰)</text>
<polyline points="208.2,1981.5 211.3,1980.9 213.1,1990.0 215.5,1975.5 217.3,2010.9 219.1,2009.1 220.9,2029.1 222.7,1993.6 224.5,2014.5 226.9,1989.1 228.7,2029.1 230.9,2036.4 232.7,2001.8 234.9,2038.2 237.3,2005.5 239.1,1980.0 240.9,2047.3 243.3,2040.0 245.1,2067.3 246.9,2043.6 248.7,2074.5 250.9,2035.5 253.1,2036.4 254.9,2105.5 257.3,2100.0 259.1,2047.3 260.9,1954.5 262.7,2015.5 265.1,1961.8 266.9,1954.5 269.1,1961.8 270.9,1982.7 273.1,1977.3 275.5,2000.0 277.3,2025.5 279.1,2018.2 280.9,1984.5 282.7,2054.5 284.5,2069.1 286.7,2100.0 289.1,2092.7 291.8,2050.9 294.5,2041.8 296.7,2055.5 298.5,1957.3 300.4,1980.9 302.7,1981.8 304.5,1974.5 306.9,2021.8 308.7,2058.2 310.5,2023.6 312.7,2109.1 314.5,2065.5 316.4,2043.6 318.5,2058.2 320.9,2050.9 322.7,2063.6 324.5,2010.9 326.4,2004.5 328.2,2052.7 330.5,2072.7 332.4,2076.4 334.5,2120.0 337.3,2101.8 340.0,2064.5 342.2,2074.5 344.5,2117.3 346.9,2090.9 348.7,2070.9 350.5,2081.8 352.4,2112.7 354.5,2110.0 356.4,2032.7 358.2,2089.1 360.0,2050.9 362.2,1992.7 364.2,1948.2 365.8,1966.4 370.0,1969.1 371.8,1961.8 374.2,1984.5 376.0,1977.3 378.2,2015.5 380.0,1979.1 381.8,1981.8 384.0,2029.1 385.8,2018.2 388.2,2035.5 390.9,2024.5 393.1,2034.5 395.5,2032.7 397.8,2090.0 399.6,2056.4 401.8,2095.5 403.6,2078.2 405.5,2082.7 407.6,2098.2 410.0,2069.1 411.8,2041.8 414.2,2069.1 416.0,2068.2 417.8,1963.6 420.0,1974.5 422.2,2007.3 424.0,1996.4 425.8,2026.4 427.6,2007.3 429.5,2006.4 431.8,2076.4 434.0,2100.0 435.8,2069.1 437.8,2065.5 439.5,2102.7 441.3,2079.1 443.6,2081.8 446.0,2085.5 448.2,2085.5 450.0,2058.2 451.8,1991.8 454.0,1987.6 455.8,2005.5 457.6,2034.5 459.5,2151.8 461.8,2079.1 463.1,2105.5 464.9,2095.5 467.3,2103.6 469.6,2134.5 472.2,2110.9 475.1,2058.2 477.3,2005.5 479.5,2012.7 481.8,2010.9 483.6,2056.4 485.5,2113.6 487.6,2068.2 489.5,2084.5 491.8,2080.0 493.6,2103.6 495.5,2138.2 497.3,2094.5 499.5,2069.5 501.5,2094.5 503.3,2105.1 505.5,2074.5 507.3,2096.4 509.1,2130.0 511.3,2054.2 513.3,2083.6 515.1,2087.3 517.3,2120.0 519.5,2125.5 521.8,2143.6 523.6,2161.5 525.5,2092.7 527.6,2114.5 529.1,2102.7 531.5,2107.3 533.3,2160.9 535.5,2164.0 537.3,2083.6 539.1,2115.5 540.9,2096.4 543.1,2101.8 544.9,2117.3 547.3,2074.5 549.1,1971.8 550.9,2025.5 553.3,2018.2 555.1,2083.6 557.3,2078.2 559.1,2049.1 561.3,2090.9 563.1,2094.5 564.9,2128.2 567.3,2114.5 569.1,2067.3 571.3,1964.5 573.6,2030.9 575.5,2081.8 576.9,2125.5 578.7,2078.2 580.5,2085.5 582.7,2060.0 584.9,2086.9 586.7,2079.1 589.1,2120.9 590.9,2077.3 592.7,2080.0 594.5,2120.0 596.9,2068.2 599.1,2080.0 601.3,2078.2 603.1,2047.3 604.9,2105.5 607.3,2115.5 610.0,2103.6 612.7,2083.6 614.9,2059.1 616.7,2091.8 619.1,2079.1 620.9,2090.9 622.7,2105.5 624.5,2059.1 626.4,2117.3 628.5,2135.5 630.4,2060.9 632.7,2081.8 634.5,2072.7 636.4,2110.0 638.5,2042.7 640.5,2110.9 642.7,2070.9 644.5,2065.5 647.3,2088.2 649.1,2096.4 650.9,2136.4 653.3,2120.0 656.4,2110.9 658.5,2004.5 662.2,2076.4 664.5,2069.1 666.4,2023.6 668.7,2030.0 670.5,2067.3 672.4,2040.0 674.5,2100.9 677.3,2080.0 680.4,2036.4 682.2,2082.7 684.5,2061.8 686.4,2045.5 688.7,2080.0 690.5,2106.4 692.4,2070.9 694.2,2045.5 696.0,2095.5 697.8,2047.3 700.0,2076.4 702.2,2065.5 704.0,2089.1 706.4,2052.7 708.2,2014.5 710.0,2051.8 712.2,2045.5 714.0,2080.9 716.0,2060.0 718.2,2059.1 720.0,2005.5 721.8,2067.3 724.0,2043.6 725.8,2012.7 728.2,2076.4 730.0,2043.6 731.8,2017.3 734.2,2030.9 736.0,2077.3 737.8,2006.4 739.6,2062.7 741.8,2035.5 744.0,2057.3 746.4,2054.5 748.2,2027.3 750.0,2025.5 751.8,2029.1 754.0,2054.5 756.0,2048.2 757.8,2015.5 759.6,2054.5 761.8,2070.0 764.0,2066.4 765.8,2018.2 767.6,1967.3 769.5,2062.7 771.3,1984.5 773.1,2018.2 775.5,2073.6 777.3,2043.6 779.5,2000.0 781.5,2058.2 783.6,2006.4 785.5,2050.9 787.6,1975.5 789.5,2067.3 791.3,2069.1 793.6,1950.0 795.5,2038.2 797.8,2050.9 799.6,2109.1 801.5,2080.0 803.3,2056.4 805.1,2074.5 807.3,2000.0 809.5,2078.2 811.3,2051.8 813.6,2090.9 815.5,2083.6 817.3,2043.6 819.5,2010.9 821.5,2069.1 823.6,2060.0 825.5,2036.4 827.3,2013.6 829.1,2047.3 830.9,1916.4 833.1,1892.7 834.9,1919.1 837.3,1917.3 839.6,1928.2 841.5,1952.7 843.3,1988.2 845.5,1945.5 847.3,1939.1 849.1,1967.3 850.9,1986.4 853.1,1935.5 854.9,1963.6 857.3,1970.9 859.1,1996.4 860.9,2010.9 863.3,1993.6 865.5,1980.0 867.3,2005.5 869.1,2036.4 870.9,2068.2 873.1,2011.8 874.9,2027.3 877.3,2005.5 879.1,2024.5 881.3,2045.5 883.3,1985.5 885.1,1989.1 886.9,2007.3 888.7,1989.1 890.9,1900.0 892.7,1938.2 894.6,1918.5 896.6,1930.3 899.2,1922.4 901.1,1908.6 903.9,1922.4 905.5,1898.8 907.4,1885.0 909.8,1892.9 912.3,1875.2 914.9,1888.9 918.3,1888.0 920.8,1869.2 923.2,1861.4 925.5,1869.2 928.1,1853.5 930.7,1861.4 933.0,1854.5 936.0,1868.3 938.9,1855.5 941.3,1851.5 943.9,1841.7 946.4,1878.1 948.4,1836.7 950.8,1859.4 953.1,1848.6 955.1,1873.2 957.1,1849.5 958.6,1890.9 960.6,1851.5 962.2,1838.7 964.2,1862.3 966.1,1839.7 968.5,1853.5 970.8,1838.7 972.8,1856.4 975.4,1851.5 977.3,1862.3 979.9,1857.4 982.3,1849.5 984.6,1862.3 987.2,1846.6 990.1,1849.5 992.5,1850.5 994.5,1842.7 996.5,1868.3 999.0,1861.4 1001.0,1866.3 1003.9,1841.7 1006.3,1850.5 1008.9,1855.5 1011.4,1850.5 1014.2,1866.3 1016.7,1862.3 1019.3,1853.5 1022.1,1856.4 1025.6,1854.5 1028.6,1855.5 1030.5,1850.5 1033.5,1868.3 1035.5,1857.4 1037.8,1850.5 1040.4,1867.3 1043.3,1872.2 1046.3,1858.4 1048.8,1854.5 1051.2,1863.3 1053.6,1854.5 1056.1,1868.3 1058.7,1869.2 1061.1,1857.4 1064.0,1861.4 1066.6,1866.3 1068.5,1871.2 1070.9,1882.0 1073.5,1854.5 1075.8,1867.3 1078.8,1866.3 1082.3,1865.3 1084.7,1871.2 1087.6,1884.0 1089.6,1853.5 1091.6,1885.0 1094.1,1867.3 1096.5,1872.2 1099.5,1882.0 1102.4,1867.3 1104.8,1884.0 1107.3,1869.2 1109.3,1877.1 1111.3,1865.3 1113.3,1881.1 1115.2,1890.9 1117.8,1879.1 1119.8,1871.2 1122.1,1866.9" stroke="#000" stroke-width="3.2" fill="none" stroke-linejoin="round"/>
<path d="M226.6,2205.3 H1122.4 M228.0,2205.3 V2227 M326.2,2205.3 V2227 M425.6,2205.3 V2227 M524.7,2205.3 V2227 M623.8,2205.3 V2227 M723.3,2205.3 V2227 M822.5,2205.3 V2227 M921.8,2205.3 V2227 M1021.3,2205.3 V2227 M1121.0,2205.3 V2227" stroke="#000" stroke-width="3.3" fill="none" stroke-linecap="butt"/>
<text x="324.4" y="2264.5" font-size="29.3" text-anchor="middle">40.000</text>
<text x="523.3" y="2264.5" font-size="29.3" text-anchor="middle">30.000</text>
<text x="722.0" y="2264.5" font-size="29.3" text-anchor="middle">20.000</text>
<text x="921.5" y="2264.5" font-size="29.3" text-anchor="middle">10.000</text>
<text x="1121.5" y="2264.5" font-size="29.3" text-anchor="middle">0</text>
<text x="422.0" y="2197.3" font-size="29.3" textLength="71.5" lengthAdjust="spacingAndGlyphs">MIS3</text>
<text x="685.0" y="2197.3" font-size="29.3" textLength="65.8" lengthAdjust="spacingAndGlyphs">LGM</text>
<text x="961.2" y="2197.3" font-size="29.3" textLength="125.4" lengthAdjust="spacingAndGlyphs">Holocene</text>
<text x="499.5" y="2310.0" font-size="29.3" textLength="346.5" lengthAdjust="spacingAndGlyphs">Age (years before present)</text>
</svg></body></html>
